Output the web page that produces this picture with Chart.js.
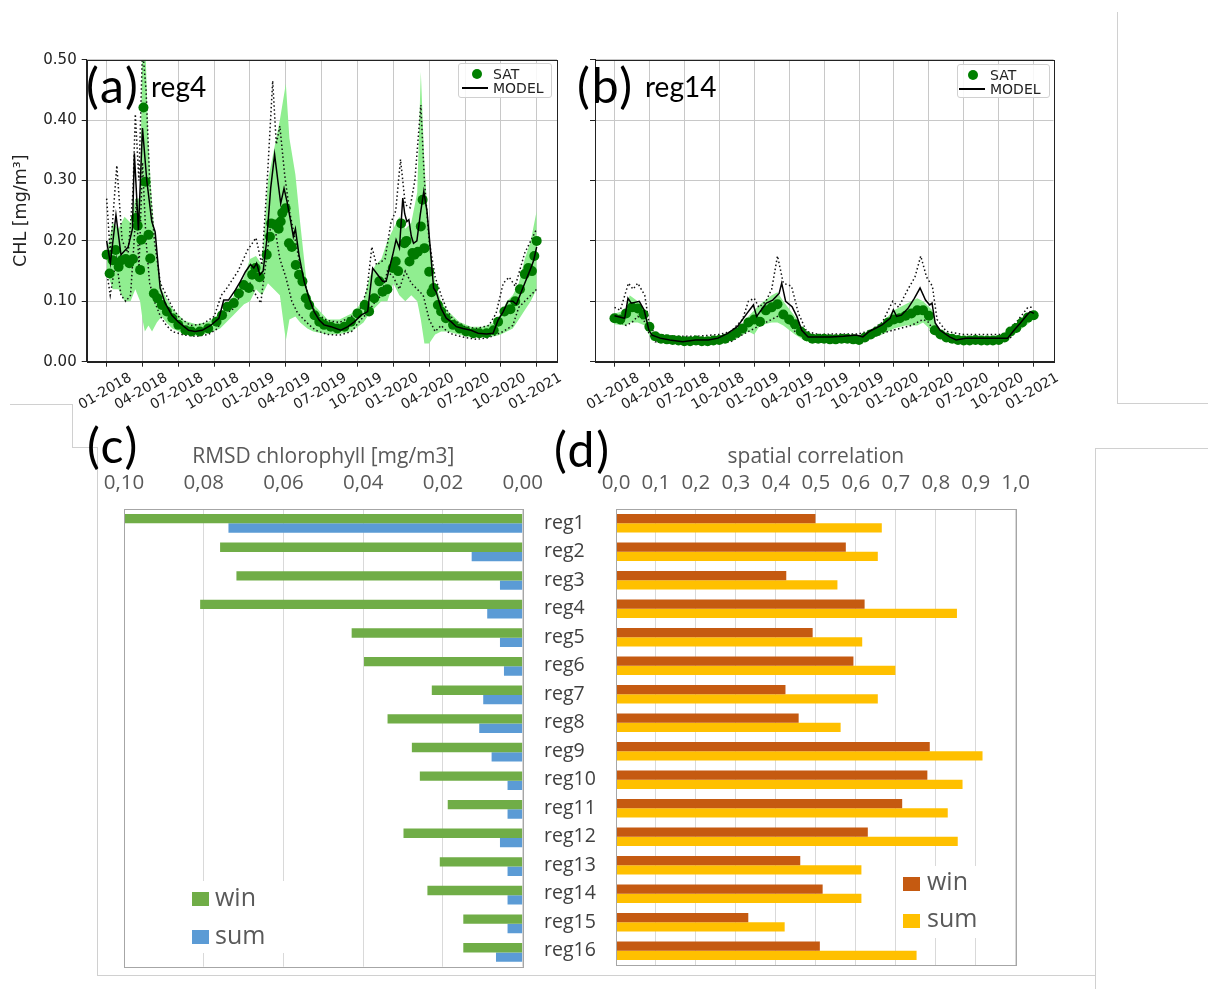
<!DOCTYPE html>
<html>
<head>
<meta charset="utf-8">
<script src="https://cdn.jsdelivr.net/npm/chart.js@4.4.1/dist/chart.umd.min.js"></script>
<style>
  body { margin: 0; background: #fff; width: 1208px; height: 989px; position: relative; overflow: hidden; }
  canvas { position: absolute; }
  .lbl { position: absolute; line-height: 1; color: #000; font-family: Lato, sans-serif; white-space: nowrap; }
  .big { font-size: 48px; letter-spacing: 2px; }
  .reg { font-size: 28px; }
  .ln { position: absolute; background: #d0d0d0; }
  .mleg { position: absolute; border: 1px solid #d0d0d0; border-radius: 3px; background: rgba(255,255,255,0.85);
          font-family: 'DejaVu Sans', sans-serif; font-size: 14px; color: #222; }
  .mleg span { position: absolute; line-height: 1; }
  .xleg { position: absolute; background: #fff; font-family: 'Open Sans', sans-serif; font-size: 25px; color: #595959; }
  .xleg i { position: absolute; width: 17px; height: 14px; }
  .xleg span { position: absolute; line-height: 1; }
</style>
</head>
<body>

<!-- slide frame remnants -->
<div class="ln" style="left:1117px;top:12px;width:1px;height:391px"></div>
<div class="ln" style="left:1117px;top:403px;width:91px;height:1px"></div>
<div class="ln" style="left:10px;top:404px;width:62px;height:1px"></div>
<div class="ln" style="left:72px;top:404px;width:1px;height:44px"></div>
<div class="ln" style="left:72px;top:447px;width:25px;height:1px"></div>
<div class="ln" style="left:97px;top:447px;width:1px;height:528px"></div>
<div class="ln" style="left:97px;top:975px;width:998px;height:1px"></div>
<div class="ln" style="left:1095px;top:448px;width:1px;height:541px"></div>
<div class="ln" style="left:1095px;top:448px;width:113px;height:1px"></div>

<canvas id="chartA" width="575" height="370" style="left:0;top:40px"></canvas>
<canvas id="chartB" width="515" height="370" style="left:560px;top:40px"></canvas>
<canvas id="chartC" width="455" height="540" style="left:90px;top:440px"></canvas>
<canvas id="chartD" width="540" height="540" style="left:534px;top:440px"></canvas>

<div class="lbl big" style="left:86px;top:61px">(a)</div>
<div class="lbl reg" style="left:151px;top:72px">reg4</div>
<div class="lbl big" style="left:577px;top:61px">(b)</div>
<div class="lbl reg" style="left:645px;top:72px">reg14</div>
<div class="lbl big" style="left:87px;top:421px">(c)</div>
<div class="lbl big" style="left:554px;top:425px">(d)</div>

<div class="mleg" style="left:458px;top:63px;width:92px;height:33px">
  <span style="left:13px;top:5px;width:10px;height:10px;border-radius:50%;background:#008000"></span>
  <span style="left:34px;top:3px">SAT</span>
  <span style="left:3px;top:23px;width:26px;height:2px;background:#000"></span>
  <span style="left:34px;top:17px">MODEL</span>
</div>
<div class="mleg" style="left:957px;top:64px;width:91px;height:32px">
  <span style="left:10px;top:5px;width:10px;height:10px;border-radius:50%;background:#008000"></span>
  <span style="left:32px;top:3px">SAT</span>
  <span style="left:1px;top:23px;width:26px;height:2px;background:#000"></span>
  <span style="left:32px;top:17px">MODEL</span>
</div>

<div class="xleg" style="left:186px;top:881px;width:114px;height:72px">
  <i style="left:6px;top:11px;background:#70ad47"></i><span style="left:29px;top:3px">win</span>
  <i style="left:6px;top:49px;background:#5b9bd5"></i><span style="left:29px;top:41px">sum</span>
</div>
<div class="xleg" style="left:896px;top:866px;width:114px;height:72px">
  <i style="left:7px;top:11px;background:#c55a11"></i><span style="left:31px;top:2px">win</span>
  <i style="left:7px;top:48px;background:#ffc000"></i><span style="left:31px;top:39px">sum</span>
</div>

<script>
// time axis: months since 01-2018
const tickMonths = [0, 3, 6, 9, 12, 15, 18, 21, 24, 27, 30, 33, 36];
const tickLabels = ['01-2018', '04-2018', '07-2018', '10-2018', '01-2019', '04-2019', '07-2019',
                    '10-2019', '01-2020', '04-2020', '07-2020', '10-2020', '01-2021'];
const chlTicks = [0, 0.1, 0.2, 0.3, 0.4, 0.5];

// (a) reg4  [month, mg/m3]
const satA = [[0,.177],[0.25,.146],[0.5,.168],[0.75,.185],[1.0,.157],[1.25,.168],[1.6,.17],[1.9,.163],[2.2,.17],
  [2.45,.238],[2.6,.225],[2.8,.152],[2.9,.202],[3.08,.421],[3.25,.298],[3.5,.21],[3.65,.171],[3.95,.113],[4.25,.105],
  [4.62,.094],[5.04,.083],[5.5,.072],[6.0,.061],[6.6,.052],[7.1,.05],[7.8,.05],[8.5,.055],[9.2,.066],[9.66,.077],
  [10.1,.091],[10.64,.097],[11.06,.113],[11.48,.127],[11.9,.122],[12.18,.144],[12.46,.155],[12.8,.14],[13.4,.177],
  [13.67,.207],[13.77,.229],[14.15,.227],[14.4,.22],[14.57,.232],[14.7,.246],[14.98,.254],[15.26,.196],[15.5,.19],
  [15.83,.16],[16.1,.144],[16.39,.133],[16.67,.105],[16.95,.094],[17.4,.077],[17.8,.066],[18.2,.061],[18.77,.058],
  [19.3,.055],[19.9,.058],[20.45,.066],[21.0,.08],[21.6,.094],[21.97,.083],[22.4,.105],[22.83,.133],[23.1,.116],
  [23.5,.12],[23.95,.155],[24.2,.166],[24.4,.15],[24.65,.229],[24.93,.196],[25.1,.2],[25.35,.166],[25.6,.18],
  [25.77,.177],[26.05,.182],[26.3,.224],[26.45,.268],[26.6,.188],[27.0,.149],[27.2,.115],[27.37,.122],[27.73,.094],
  [28.0,.083],[28.4,.072],[29.0,.061],[29.55,.055],[30.1,.05],[30.7,.047],[31.2,.047],[31.8,.047],[32.4,.052],
  [32.77,.066],[33.3,.083],[33.8,.087],[34.2,.1],[34.6,.12],[35.0,.145],[35.3,.155],[35.6,.15],[35.8,.175],[36.0,.2]];
const modelA = [[0,.20],[0.31,.163],[0.78,.243],[1.2,.177],[1.8,.19],[2.16,.22],[2.32,.345],[2.66,.218],[3.0,.387],
  [3.36,.30],[3.78,.232],[4.06,.215],[4.48,.122],[4.9,.097],[5.46,.077],[6.0,.066],[6.86,.052],[7.4,.05],[8.0,.052],
  [8.7,.06],[9.4,.072],[9.8,.102],[10.2,.102],[10.78,.119],[11.2,.133],[11.62,.149],[12.04,.161],[12.32,.155],
  [12.55,.163],[12.83,.144],[13.1,.15],[13.39,.199],[13.73,.287],[14.06,.343],[14.34,.298],[14.57,.262],[14.85,.287],
  [15.1,.265],[15.41,.232],[15.63,.207],[15.8,.22],[16.1,.177],[16.53,.133],[16.95,.105],[17.37,.083],[17.79,.069],
  [18.2,.061],[18.77,.058],[19.6,.052],[20.2,.058],[20.73,.066],[21.3,.077],[21.85,.083],[22.27,.155],[22.69,.144],
  [23.11,.133],[23.4,.133],[23.67,.155],[23.95,.177],[24.23,.202],[24.51,.188],[24.79,.271],[24.95,.245],[25.13,.232],
  [25.3,.235],[25.5,.208],[25.69,.196],[25.97,.2],[26.25,.243],[26.55,.282],[26.81,.25],[27.09,.188],[27.37,.122],
  [27.6,.115],[28.0,.088],[28.43,.072],[28.85,.066],[29.27,.058],[29.83,.055],[30.5,.052],[31.1,.047],[31.8,.046],
  [32.35,.047],[32.77,.069],[33.2,.083],[33.6,.1],[34.0,.1],[34.3,.095],[34.6,.11],[35.0,.13],[35.45,.152],
  [35.75,.168],[36.0,.19]];
const dotHiA = [[0,.27],[0.3,.18],[0.85,.325],[1.3,.2],[1.8,.18],[2.2,.28],[2.4,.41],[2.7,.3],[3.0,.52],[3.3,.45],
  [3.6,.3],[4.0,.2],[4.5,.13],[5,.11],[5.5,.09],[6,.075],[7,.06],[8,.062],[9,.075],[9.6,.11],[10,.12],[11,.15],
  [11.8,.185],[12.5,.205],[13,.16],[13.5,.32],[13.9,.465],[14.2,.36],[14.5,.39],[14.9,.31],[15.3,.25],[15.8,.2],
  [16.3,.15],[17,.1],[17.5,.08],[18.5,.068],[19.5,.065],[20.5,.075],[21.3,.09],[21.8,.12],[22.2,.19],[22.6,.16],
  [23.3,.17],[23.8,.23],[24.2,.25],[24.6,.335],[25,.26],[25.4,.255],[25.8,.3],[26.3,.425],[26.6,.3],[27,.2],
  [27.5,.14],[28,.11],[28.5,.085],[29,.07],[30,.058],[31,.055],[32,.06],[32.6,.08],[33.2,.13],[33.7,.14],
  [34.2,.125],[35,.18],[35.5,.2],[36,.22]];
const dotLoA = [[0,.15],[0.3,.11],[0.8,.17],[1.2,.11],[1.6,.10],[2.0,.11],[2.3,.2],[2.5,.27],[2.7,.15],[3.0,.33],
  [3.3,.2],[3.6,.13],[4.0,.10],[4.5,.075],[5,.06],[5.5,.05],[6.5,.044],[7.5,.042],[8.5,.045],[9.3,.055],[9.8,.08],
  [10.5,.085],[11.2,.11],[12,.13],[12.5,.11],[12.9,.097],[13.3,.16],[13.7,.22],[14.1,.22],[14.5,.17],[15,.14],
  [15.5,.1],[16,.08],[16.5,.07],[17,.06],[17.5,.052],[18.5,.045],[19.5,.044],[20.5,.05],[21.3,.07],[21.8,.08],
  [22.5,.1],[23,.11],[23.5,.15],[24,.14],[24.5,.12],[25,.15],[25.5,.13],[26,.12],[26.5,.11],[27,.07],[27.5,.05],
  [28,.06],[28.5,.05],[29,.045],[30,.04],[31,.037],[32,.04],[32.6,.045],[33.2,.05],[34,.06],[34.5,.09],[35,.1],
  [35.5,.11],[36,.12]];
const bandMonthsA = [0,0.5,1,1.5,2,2.4,2.8,3.0,3.2,3.5,3.8,4.2,4.6,5,5.5,6.5,7.5,8.5,9.5,10.5,11.5,12,12.5,13,
  13.5,14,14.5,15,15.3,15.8,16.2,16.8,17.3,18.5,19.5,20.5,21.5,22,22.5,23,23.5,24,24.5,25,25.5,26,26.3,26.6,27,
  27.5,28,28.5,29.5,30.5,31.5,32.5,33,33.5,34,34.5,35,35.5,36];
const bandHiA = [.18,.23,.22,.24,.23,.27,.27,.55,.55,.36,.26,.17,.12,.105,.088,.068,.062,.066,.08,.105,.14,.17,
  .175,.16,.30,.35,.40,.46,.37,.31,.23,.12,.095,.07,.07,.08,.1,.14,.16,.17,.2,.22,.24,.22,.23,.28,.48,.33,.2,
  .13,.1,.085,.066,.058,.058,.065,.08,.1,.11,.13,.17,.2,.25];
const bandLoA = [.15,.12,.12,.10,.10,.12,.10,.07,.05,.06,.05,.065,.075,.065,.055,.046,.043,.047,.055,.075,.095,.1,
  .12,.11,.13,.12,.11,.035,.07,.075,.065,.055,.05,.045,.046,.05,.065,.08,.09,.1,.1,.13,.11,.1,.11,.1,.07,.03,.03,
  .045,.05,.05,.045,.04,.04,.042,.045,.05,.055,.07,.085,.1,.12];

// (b) reg14
const satB = [[0,.072],[0.5,.07],[1,.08],[1.5,.09],[2,.088],[2.5,.078],[3,.058],[3.5,.042],[4,.038],[4.5,.037],
  [5,.036],[5.5,.035],[6,.034],[6.5,.034],[7,.035],[7.5,.034],[8,.034],[8.5,.035],[9,.036],[9.5,.038],[10,.042],
  [10.5,.048],[11,.055],[11.5,.065],[12,.07],[12.5,.066],[13,.085],[13.5,.09],[14,.095],[14.5,.078],[15,.07],
  [15.5,.062],[16,.05],[16.5,.042],[17,.038],[17.5,.038],[18,.038],[18.5,.037],[19,.037],[19.5,.038],[20,.038],
  [20.5,.037],[21,.036],[21.5,.04],[22,.045],[22.5,.05],[23,.056],[23.5,.065],[24,.07],[24.5,.072],[25,.076],
  [25.5,.08],[26,.085],[26.5,.085],[27,.076],[27.5,.052],[28,.045],[28.5,.04],[29,.038],[29.5,.036],[30,.035],
  [30.5,.035],[31,.036],[31.5,.035],[32,.035],[32.5,.035],[33,.036],[33.5,.04],[34,.05],[34.5,.056],[35,.065],
  [35.5,.073],[36,.077]];
const modelB = [[0,.076],[0.88,.072],[1.16,.105],[1.44,.097],[2.13,.1],[2.54,.086],[2.96,.052],[3.23,.044],
  [3.92,.039],[4.75,.036],[5.86,.033],[6.96,.036],[8.07,.036],[8.9,.039],[9.72,.047],[10.55,.058],[11.38,.08],
  [11.93,.094],[12.21,.075],[12.62,.086],[13.04,.097],[13.59,.102],[14.14,.113],[14.36,.13],[14.7,.1],[15.25,.091],
  [15.66,.075],[16.08,.052],[16.63,.041],[17.46,.041],[18.56,.041],[19.67,.042],[20.77,.044],[21.33,.041],
  [21.88,.05],[22.98,.061],[23.67,.072],[23.95,.086],[24.23,.075],[24.64,.077],[25.19,.088],[25.75,.105],
  [26.24,.122],[26.71,.102],[27.07,.094],[27.27,.097],[27.54,.064],[27.96,.052],[28.78,.041],[29.34,.036],
  [30.17,.039],[31.27,.039],[32.38,.039],[33.2,.039],[33.76,.039],[34.31,.052],[34.86,.064],[35.41,.077],
  [35.69,.083],[36.02,.08]];
const dotHiB = [[0,.09],[0.5,.085],[1.2,.13],[1.6,.12],[2.0,.13],[2.6,.11],[3.0,.06],[3.5,.046],[5,.042],[7,.042],
  [9,.045],[10,.05],[11,.07],[11.5,.1],[12,.105],[12.4,.09],[13,.1],[13.5,.12],[14.0,.175],[14.5,.13],[15.2,.125],
  [15.8,.08],[16.5,.05],[17.5,.045],[19,.046],[21,.046],[22,.052],[23,.065],[23.5,.085],[23.9,.1],[24.4,.09],
  [25.2,.12],[25.8,.14],[26.3,.175],[26.8,.14],[27.3,.125],[27.7,.07],[28.5,.05],[30,.045],[32,.045],[33.5,.045],
  [34.5,.065],[35.5,.09],[36,.09]];
const dotLoB = [[0,.07],[1,.06],[1.5,.065],[2,.075],[2.5,.07],[3,.045],[3.5,.033],[6,.03],[10,.033],[11,.045],
  [12,.055],[12.5,.06],[13.5,.07],[14.5,.08],[15,.065],[15.5,.05],[16.5,.037],[20,.036],[22,.04],[23.5,.05],
  [24.5,.055],[25.5,.06],[26.5,.07],[27,.065],[27.5,.045],[29,.035],[33,.033],[34,.04],[35,.06],[36,.075]];
const bandMonthsB = [0,1,1.3,2,2.6,3.2,5,9,10.5,11.5,12,12.5,13.5,14,14.5,15.5,16.5,18,21,22,23,24,25,26,26.5,
  27.3,27.7,29,33,34,35,36];
const bandHiB = [.08,.085,.11,.1,.085,.05,.04,.04,.05,.075,.085,.095,.11,.115,.1,.075,.045,.042,.043,.05,.065,.085,
  .095,.105,.1,.085,.055,.042,.042,.055,.07,.085];
const bandLoB = [.062,.06,.065,.065,.06,.035,.03,.03,.038,.05,.045,.06,.065,.065,.06,.045,.033,.032,.033,.038,.045,
  .055,.06,.06,.065,.05,.04,.032,.032,.04,.055,.07];

// (c) and (d)
const regions = ['reg1','reg2','reg3','reg4','reg5','reg6','reg7','reg8','reg9','reg10','reg11','reg12',
                 'reg13','reg14','reg15','reg16'];
const rmsdWin = [0.100,0.0759,0.0718,0.0809,0.0429,0.0398,0.0228,0.0339,0.0278,0.0258,0.0188,0.0299,0.0208,0.0239,0.0149,0.0149];
const rmsdSum = [0.0738,0.0128,0.0057,0.0089,0.0057,0.0047,0.0099,0.0109,0.0078,0.0038,0.0038,0.0057,0.0038,0.0038,0.0038,0.0067];
const corrWin = [0.499,0.575,0.426,0.622,0.492,0.594,0.424,0.457,0.785,0.779,0.716,0.630,0.461,0.517,0.331,0.510];
const corrSum = [0.665,0.655,0.554,0.853,0.616,0.699,0.655,0.562,0.917,0.867,0.830,0.855,0.614,0.614,0.422,0.752];

// box around the plot area
const frame = {
  id: 'frame',
  afterDatasetsDraw(chart, args, opts) {
    const { ctx, chartArea: a } = chart;
    ctx.save();
    ctx.strokeStyle = opts.color;
    ctx.lineWidth = 1;
    const l = Math.round(a.left) + 0.5, t = Math.round(a.top) + 0.5;
    ctx.strokeRect(l, t, Math.round(a.right) - Math.round(a.left), Math.round(a.bottom) - Math.round(a.top));
    ctx.restore();
  }
};

const xy = arr => arr.map(p => ({ x: p[0], y: p[1] }));
const zip = (ms, vs) => ms.map((m, i) => ({ x: m, y: vs[i] }));

function seriesChart(id, sat, model, dotHi, dotLo, bandM, bandHi, bandLo, opt) {
  const dotted = { borderColor: '#111', borderWidth: 1.5, borderDash: [1.5, 2.5], pointRadius: 0, fill: false };
  return new Chart(document.getElementById(id), {
    type: 'line',
    data: {
      datasets: [
        { label: 'MODEL', data: xy(model), borderColor: '#000', borderWidth: 1.5, pointRadius: 0, fill: false },
        { label: 'SAT', data: xy(sat), showLine: false, pointRadius: opt.dot, pointBorderWidth: 0,
          pointBackgroundColor: '#007a00', backgroundColor: '#007a00', borderColor: '#007a00' },
        Object.assign({ data: xy(dotHi) }, dotted),
        Object.assign({ data: xy(dotLo) }, dotted),
        { data: zip(bandM, bandLo), borderWidth: 0, borderColor: 'rgba(0,0,0,0)', pointRadius: 0, fill: false },
        { data: zip(bandM, bandHi), borderWidth: 0, borderColor: 'rgba(0,0,0,0)', pointRadius: 0,
          fill: '-1', backgroundColor: '#90ee90' }
      ]
    },
    options: {
      responsive: false,
      animation: false,
      events: [],
      layout: { padding: { left: 0, top: 19.7, right: opt.padR, bottom: 0 } },
      plugins: { legend: { display: false }, tooltip: { enabled: false }, frame: { color: '#222' } },
      scales: {
        x: {
          type: 'linear', min: -1.67, max: 37.7,
          afterBuildTicks: s => { s.ticks = tickMonths.map(v => ({ value: v })); },
          afterFit: s => { s.height = 48.3; },
          ticks: {
            callback: (v, i) => tickLabels[i], autoSkip: false, minRotation: 30, maxRotation: 30,
            labelOffset: 24, padding: 3, color: '#222', font: { family: 'DejaVu Sans', size: 14 }
          },
          grid: { color: '#c8c8c8', tickColor: '#222', tickLength: 5 },
          border: { color: '#222' }
        },
        y: {
          min: 0, max: 0.5,
          afterBuildTicks: s => { s.ticks = chlTicks.map(v => ({ value: v })); },
          afterFit: s => { s.width = opt.yWidth; },
          ticks: {
            callback: v => opt.yLabels ? v.toFixed(2) : '', padding: 5, color: '#222',
            font: { family: 'DejaVu Sans', size: 15 }
          },
          grid: { color: '#c8c8c8', tickColor: '#222', tickLength: 5 },
          border: { color: '#222' },
          title: {
            display: opt.yLabels, text: 'CHL [mg/m³]', color: '#222',
            font: { family: 'DejaVu Sans', size: 17.5 }, padding: { top: 11, bottom: 0 }
          }
        }
      }
    },
    plugins: [frame]
  });
}

seriesChart('chartA', satA, modelA, dotHiA, dotLoA, bandMonthsA, bandHiA, bandLoA,
  { dot: 5, padR: 18, yWidth: 86.7, yLabels: true });
seriesChart('chartB', satB, modelB, dotHiB, dotLoB, bandMonthsB, bandHiB, bandLoB,
  { dot: 5, padR: 21.5, yWidth: 19, yLabels: false });

const excelTicks = { color: '#595959', font: { family: 'Open Sans', size: 20.5 }, padding: 13.7 };
const excelTitle = text => ({
  display: true, text: text, color: '#595959', font: { family: 'Open Sans', size: 21 }, padding: { top: 4.4, bottom: 0 }
});
// fixed axis height, and no automatic side padding for edge labels
const topAxisFit = s => { s.height = 69; s.paddingLeft = 0; s.paddingRight = 0; };

// (c) RMSD, reversed axis on top
new Chart(document.getElementById('chartC'), {
  type: 'bar',
  data: {
    labels: regions,
    datasets: [
      { label: 'win', data: rmsdWin, backgroundColor: '#70ad47' },
      { label: 'sum', data: rmsdSum, backgroundColor: '#5b9bd5' }
    ]
  },
  options: {
    indexAxis: 'y',
    responsive: false,
    animation: false,
    events: [],
    categoryPercentage: 0.654,
    barPercentage: 1,
    layout: { padding: { left: 34, top: 0, right: 22.3, bottom: 13.3 } },
    plugins: { legend: { display: false }, tooltip: { enabled: false }, frame: { color: '#a6a6a6' } },
    scales: {
      x: {
        position: 'top', reverse: true, min: 0, max: 0.1,
        afterFit: topAxisFit,
        ticks: Object.assign({ stepSize: 0.02, callback: v => v.toFixed(2).replace('.', ',') }, excelTicks),
        grid: { color: '#d9d9d9', drawTicks: false },
        border: { display: false },
        title: excelTitle('RMSD chlorophyll [mg/m3]')
      },
      y: { display: false }
    }
  },
  plugins: [frame]
});

// (d) spatial correlation, region names on its left
new Chart(document.getElementById('chartD'), {
  type: 'bar',
  data: {
    labels: regions,
    datasets: [
      { label: 'win', data: corrWin, backgroundColor: '#c55a11' },
      { label: 'sum', data: corrSum, backgroundColor: '#ffc000' }
    ]
  },
  options: {
    indexAxis: 'y',
    responsive: false,
    animation: false,
    events: [],
    categoryPercentage: 0.654,
    barPercentage: 1,
    layout: { padding: { left: 10, top: 0, right: 58.3, bottom: 15 } },
    plugins: { legend: { display: false }, tooltip: { enabled: false }, frame: { color: '#a6a6a6' } },
    scales: {
      x: {
        position: 'top', min: 0, max: 1,
        afterFit: topAxisFit,
        ticks: Object.assign({ stepSize: 0.1, callback: v => v.toFixed(1).replace('.', ',') }, excelTicks),
        grid: { color: '#d9d9d9', drawTicks: false },
        border: { display: false },
        title: excelTitle('spatial correlation')
      },
      y: {
        afterFit: s => { s.width = 72; },
        ticks: { crossAlign: 'far', color: '#404040', font: { family: 'Open Sans', size: 19.5 } },
        grid: { display: false },
        border: { display: false }
      }
    }
  },
  plugins: [frame]
});
</script>
</body>
</html>
